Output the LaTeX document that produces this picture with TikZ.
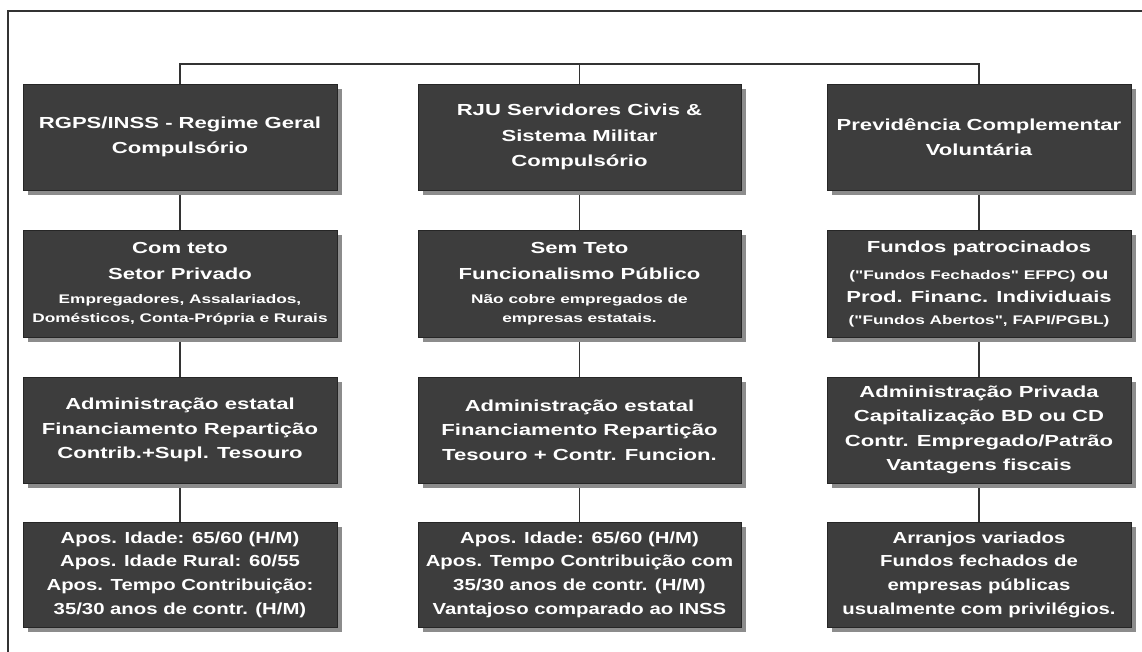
\documentclass[tikz,border=0pt]{standalone}
\usepackage{fontspec}
\usetikzlibrary{backgrounds}
\newfontfamily\bxA[FakeStretch=1.38]{Liberation Sans Bold}
\newfontfamily\bxB[FakeStretch=1.27]{Liberation Sans Bold}
\newcommand\smtxt{\fontsize{12.5}{19}\selectfont}
\definecolor{boxfill}{HTML}{3D3D3D}
\definecolor{boxedge}{HTML}{262626}
\definecolor{shadowgray}{HTML}{8C8C8C}
\definecolor{linegray}{HTML}{333333}
\begin{document}
\begin{tikzpicture}[x=1pt,y=-1pt,
  box/.style={draw=boxedge, line width=0.8pt, fill=boxfill, text=white,
    align=center, inner sep=0pt,
    preaction={fill=shadowgray, transform canvas={xshift=5pt,yshift=-5pt}}},
  colA/.style={minimum width=314pt},
  colB/.style={minimum width=323pt},
  colC/.style={minimum width=304pt},
  rowA/.style={minimum height=106pt, font=\bxA\fontsize{16}{25.5}\selectfont},
  rowB/.style={minimum height=107pt, font=\bxA\fontsize{16}{26}\selectfont},
  rowC/.style={minimum height=106pt, font=\bxA\fontsize{16}{24.5}\selectfont},
  rowD/.style={minimum height=105pt, font=\bxB\fontsize{16}{23.7}\selectfont},
  conn/.style={draw=linegray, line width=1.8pt},
  frameline/.style={draw=linegray, line width=1.8pt}]
\useasboundingbox (0,0) rectangle (1142,652);

% frame
\coordinate (fbl) at (8,652);
\coordinate (ftl) at (8,11);
\coordinate (ftr) at (1142,11);
\draw[frameline] (fbl) -- (ftl) -- (ftr);

% row 1
\node[box,colA,rowA] (a1) at (180,137) {RGPS/INSS - Regime Geral\\Compulsório};
\node[box,colB,rowA] (b1) at (579.5,137) {RJU Servidores Civis \&\\Sistema Militar\\Compulsório};
\node[box,colC,rowA] (c1) at (979,137) {Previdência Complementar\\Voluntária};

% row 2
\node[box,colA,rowB] (a2) at (180,283.5) {Com teto\\Setor Privado\\[-2pt]{\smtxt Empregadores, Assalariados,}\\[-7pt]{\smtxt Domésticos, Conta-Própria e Rurais}};
\node[box,colB,rowB] (b2) at (579.5,283.5) {Sem Teto\\Funcionalismo Público\\[-2pt]{\smtxt Não cobre empregados de}\\[-7pt]{\smtxt empresas estatais.}};
\node[box,colC,rowB] (c2) at (979,283.5) {Fundos patrocinados\\[1pt]{\smtxt ("Fundos Fechados" EFPC)} ou\\[-3pt]Prod. Financ. Individuais\\[-4pt]{\smtxt ("Fundos Abertos", FAPI/PGBL)}};

% row 3
\node[box,colA,rowC] (a3) at (180,430) {Administração estatal\\Financiamento Repartição\\Contrib.+Supl. Tesouro};
\node[box,colB,rowC] (b3) at (579.5,430) {Administração estatal\\Financiamento Repartição\\Tesouro + Contr. Funcion.};
\node[box,colC,rowC] (c3) at (979,430) {Administração Privada\\Capitalização BD ou CD\\Contr. Empregado/Patrão\\Vantagens fiscais};

% row 4
\node[box,colA,rowD] (a4) at (180,574.5) {Apos. Idade: 65/60 (H/M)\\Apos. Idade Rural: 60/55\\Apos. Tempo Contribuição:\\35/30 anos de contr. (H/M)};
\node[box,colB,rowD] (b4) at (579.5,574.5) {Apos. Idade: 65/60 (H/M)\\Apos. Tempo Contribuição com\\35/30 anos de contr. (H/M)\\Vantajoso comparado ao INSS};
\node[box,colC,rowD] (c4) at (979,574.5) {Arranjos variados\\Fundos fechados de\\empresas públicas\\usualmente com privilégios.};

\coordinate (bar) at (580,64);
\begin{pgfonlayer}{background}
  \fill[white] (0,0) rectangle (1142,652);
  \draw[conn] (a1.north) -- (a1.north |- bar) -- (c1.north |- bar) -- (c1.north);
  \draw[conn] (b1.north) -- (b1.north |- bar);
  \draw[conn] (a1) -- (a2);
  \draw[conn] (a2) -- (a3);
  \draw[conn] (a3) -- (a4);
  \draw[conn] (b1) -- (b2);
  \draw[conn] (b2) -- (b3);
  \draw[conn] (b3) -- (b4);
  \draw[conn] (c1) -- (c2);
  \draw[conn] (c2) -- (c3);
  \draw[conn] (c3) -- (c4);
\end{pgfonlayer}
\end{tikzpicture}
\end{document}
